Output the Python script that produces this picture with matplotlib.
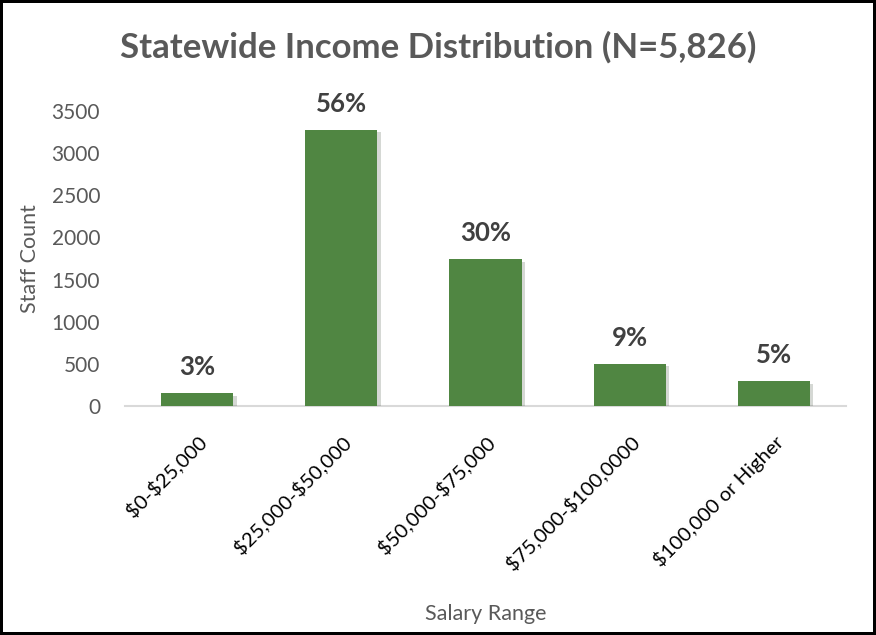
import matplotlib.pyplot as plt
import matplotlib.patheffects as pe

plt.rcParams['font.family'] = ['Lato', 'DejaVu Sans']
plt.rcParams['text.parse_math'] = False

ranges = ['$0-$25,000', '$25,000-$50,000', '$50,000-$75,000',
          '$75,000-$100,0000', '$100,000 or Higher']
staff = [150, 3278, 1745, 502, 293]
shares = ['3%', '56%', '30%', '9%', '5%']

fig = plt.figure(figsize=(8.76, 6.35), dpi=100, edgecolor='black', linewidth=3)
ax = fig.add_axes([0.1427, 0.3606, 0.8231, 0.4646])

bars = ax.bar(range(len(ranges)), staff, width=0.5, color='#508642', zorder=3)
for b in bars:
    b.set_path_effects([pe.SimplePatchShadow(offset=(2.5, -2), alpha=0.18), pe.Normal()])

for b, s in zip(bars, shares):
    ax.annotate(s, (b.get_x() + b.get_width() / 2, b.get_height()),
                xytext=(0, 10), textcoords='offset points', ha='center', va='bottom',
                fontsize=18.5, fontweight='bold', color='#404040')

ax.set_xlim(-0.5, len(ranges) - 0.5)
ax.set_ylim(0, 3500)
ax.set_yticks(range(0, 3501, 500))
ax.set_xticks(range(len(ranges)))
ax.set_xticklabels(ranges, rotation=45, ha='right', rotation_mode='anchor', fontsize=14.5)
ax.tick_params(axis='y', length=0, labelsize=15, labelcolor='#595959', pad=18)
ax.tick_params(axis='x', length=0, pad=19)

for side in ['top', 'right', 'left']:
    ax.spines[side].set_visible(False)
ax.spines['bottom'].set_color('#d9d9d9')
ax.spines['bottom'].set_linewidth(1.5)

ax.set_ylabel('Staff Count', fontsize=15.5, color='#595959', labelpad=8)
ax.set_xlabel('Salary Range', fontsize=15.5, color='#595959', labelpad=22)
fig.text(0.5, 0.926, 'Statewide Income Distribution (N=5,826)', ha='center', va='center',
         fontsize=25, fontweight='bold', color='#595959')

fig.savefig('out.png', dpi=100, edgecolor=fig.get_edgecolor())
